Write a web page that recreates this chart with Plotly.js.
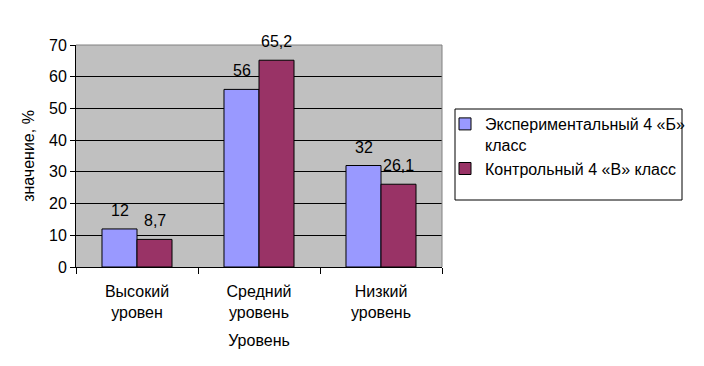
<!DOCTYPE html>
<html><head><meta charset="utf-8">
<script src="https://cdn.plot.ly/plotly-3.0.1.min.js"></script>
<style>html,body{margin:0;padding:0;background:#fff}#c{width:704px;height:366px}</style>
</head><body><div id="c"></div>
<script>
const categories = ["Высокий<br>уровен", "Средний<br>уровень", "Низкий<br>уровень"];
const seriesNames = ["Экспериментальный 4 «Б»<br>класс", "Контрольный 4 «В» класс"];
const expValues = [12, 56, 32];
const ctrlValues = [8.7, 65.2, 26.1];
const yTicks = [0, 10, 20, 30, 40, 50, 60, 70];

const fmt = v => String(v).replace('.', ',');
const FONT = "Liberation Sans, Arial, sans-serif";

const traces = [
  {type:'bar', name: seriesNames[0], x: categories, y: expValues,
   marker:{color:'#9999FF', line:{color:'#000', width:1}}},
  {type:'bar', name: seriesNames[1], x: categories, y: ctrlValues,
   marker:{color:'#993366', line:{color:'#000', width:1}}}
];

const annotations = [];
[[expValues, -17.5], [ctrlValues, 17.5]].forEach(([vals, dx]) => {
  vals.forEach((v, i) => annotations.push({
    xref:'x', yref:'y', x: categories[i], y: v, text: fmt(v), showarrow:false,
    xanchor:'center', yanchor:'bottom', xshift: dx, yshift: 8,
    font:{family:FONT, size:16, color:'#000'}
  }));
});

const layout = {
  width:704, height:366,
  margin:{l:76, r:262, t:45, b:99},
  paper_bgcolor:'#fff', plot_bgcolor:'#C0C0C0',
  font:{family:FONT, size:16, color:'#000'},
  barmode:'group', bargap:0.426, bargroupgap:0,
  showlegend:true,
  legend:{x:(445-76)/366, y:(267-107)/222, xanchor:'left', yanchor:'top', font:{family:FONT,size:16,color:'#000'},
          bgcolor:'rgba(0,0,0,0)', borderwidth:0, tracegroupgap:2, itemwidth:30, valign:'top'},
  xaxis:{type:'category', showline:true, linecolor:'#000', linewidth:1, ticks:'outside', tickson:'boundaries',
         ticklen:6, tickcolor:'#000', showgrid:false, automargin:false, ticklabelstandoff:10,
         tickfont:{family:FONT,size:16},
         title:{text:'Уровень', font:{family:FONT,size:16}, standoff:14}},
  yaxis:{range:[0,70], tickvals:yTicks, ticktext:yTicks.map(String), showline:true, linecolor:'#000', linewidth:1,
         ticks:'outside', ticklen:5, tickcolor:'#000', showgrid:true, gridcolor:'#000', gridwidth:1,
         zeroline:false, automargin:false, tickfont:{family:FONT,size:16},
         title:{text:'значение, %', font:{family:FONT,size:16}, standoff:10}},
  annotations: annotations,
  shapes:[
    {type:'line', xref:'paper', yref:'paper', x0:0, x1:1, y0:1, y1:1, line:{color:'#808080', width:1}},
    {type:'line', xref:'paper', yref:'paper', x0:1, x1:1, y0:0, y1:1, line:{color:'#808080', width:1}},
    {type:'rect', xref:'paper', yref:'paper', x0:(455-76)/366, x1:(682-76)/366, y0:(267-200)/222, y1:(267-109)/222,
     line:{color:'#000', width:1}, fillcolor:'rgba(0,0,0,0)'}
  ]
};

Plotly.newPlot('c', traces, layout, {displayModeBar:false, staticPlot:true});
</script>
</body></html>
